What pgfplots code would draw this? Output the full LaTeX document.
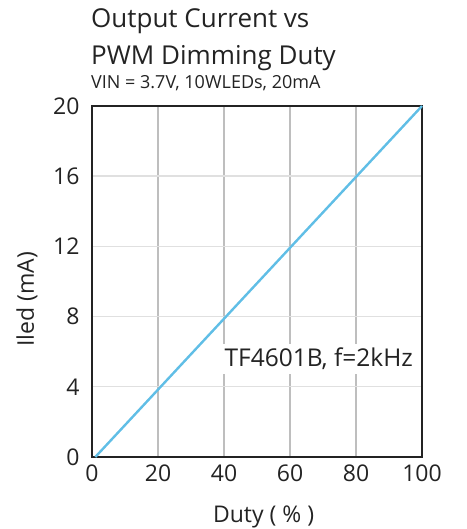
\documentclass[border=0pt]{standalone}
\usepackage{pgfplots}
\usepackage{fontspec}
\setmainfont{Open Sans}
\pgfplotsset{compat=1.18}
\definecolor{ledblue}{RGB}{96,190,230}
\definecolor{vgrid}{RGB}{190,190,190}
\definecolor{hgrid}{RGB}{224,224,224}
\definecolor{axisgray}{RGB}{35,35,35}
\begin{document}
\begin{tikzpicture}
\begin{axis}[
    name=ax,
    scale only axis,
    width=330pt, height=351pt,
    xmin=0, xmax=100, ymin=0, ymax=20,
    xtick={0,20,...,100}, ytick={0,4,...,20},
    major tick length=0pt,
    axis line style={axisgray, line width=1.4pt},
    xmajorgrids, ymajorgrids,
    x grid style={vgrid, line width=1.5pt},
    y grid style={hgrid, line width=1.4pt},
    /pgf/number format/assume math mode=true,
    tick label style={font=\fontsize{23}{26}\selectfont, text=axisgray},
    xticklabel style={yshift=-4pt},
    yticklabel style={xshift=-9pt},
    xlabel={Duty ( \% )},
    ylabel={Iled (mA)},
    label style={font=\fontsize{23}{26}\selectfont, text=axisgray, inner sep=0pt},
    xlabel style={at={(rel axis cs:0.52,0)}, anchor=base, yshift=-65pt},
    ylabel style={at={(rel axis cs:0,0.45)}, anchor=base, yshift=58pt},
    clip=false,
]
\addplot[ledblue, line width=2.4pt] coordinates {(1,0) (100,20)};
\node[fill=white, inner xsep=2pt, inner ysep=4pt, font=\fontsize{24.5}{28}\selectfont, text=axisgray]
    at (axis cs:68.7,5.6) {TF4601B, f=2kHz};
\end{axis}
\begin{scope}[every node/.style={inner sep=0pt, anchor=base west, text=axisgray}]
\node[font=\fontsize{26}{30}\selectfont]
    at ([xshift=-1pt, yshift=78pt]ax.north west) {Output Current vs};
\node[font=\fontsize{26}{30}\selectfont]
    at ([xshift=-1pt, yshift=41pt]ax.north west) {PWM Dimming Duty};
\node[font=\fontsize{18}{20}\selectfont]
    at ([xshift=-1pt, yshift=17pt]ax.north west) {VIN = 3.7V, 10WLEDs, 20mA};
\end{scope}
\pgfresetboundingbox
\path[use as bounding box] ([xshift=-92pt, yshift=-72pt]ax.south west) rectangle ++(466pt,529pt);
\end{tikzpicture}
\end{document}
